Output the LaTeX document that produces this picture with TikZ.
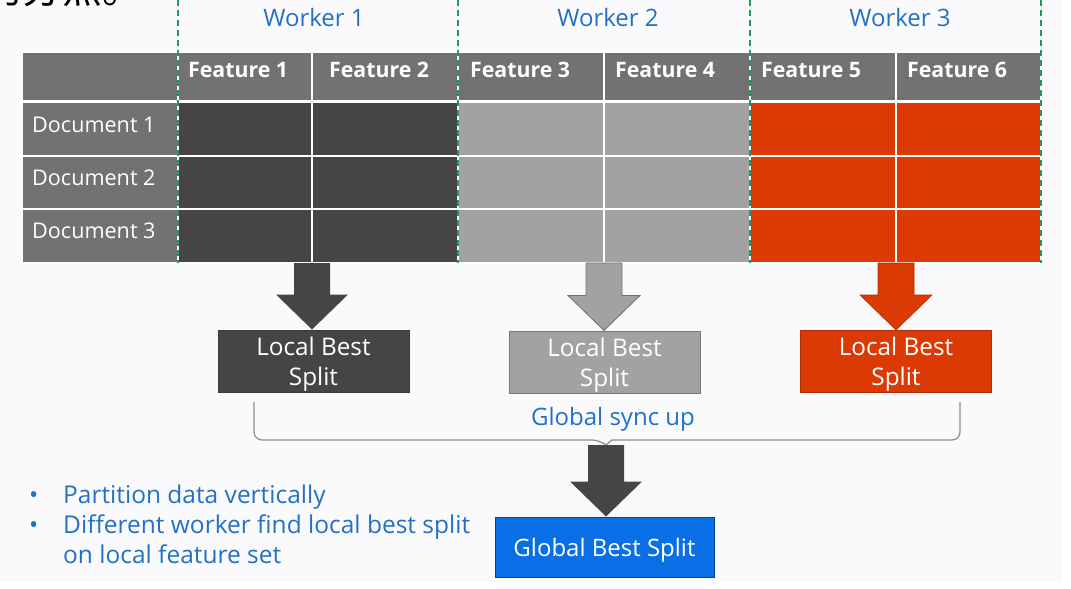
\documentclass[tikz,border=0pt]{standalone}
\usepackage{fontspec}
\setmainfont{Open Sans}
\newfontfamily\cjk{Noto Sans CJK SC}
\usetikzlibrary{calc}
\definecolor{bgc}{HTML}{FAFAFC}
\definecolor{hdr}{HTML}{737174}
\definecolor{darkc}{HTML}{464446}
\definecolor{lgray}{HTML}{A2A1A4}
\definecolor{orng}{HTML}{DC3A04}
\definecolor{wblue}{HTML}{2271C6}
\definecolor{gblue}{HTML}{0A6FE6}
\definecolor{dgreen}{HTML}{1E9A5C}
\definecolor{bracec}{HTML}{8E8E92}
\newcommand\blockarrow[3]{%
  \path[#3] let \p1=(#1), \p2=(#2) in
    (\x1-18pt,\y1) -- (\x1+18pt,\y1) -- (\x1+18pt,\y2+35pt) -- (\x1+36pt,\y2+35pt)
    -- (\x1,\y2) -- (\x1-36pt,\y2+35pt) -- (\x1-18pt,\y2+35pt) -- cycle;}
\newcommand\twolines[2]{\raisebox{-3pt}[\height][\depth]{\begin{tabular}{@{}c@{}}#1\\#2\end{tabular}}}
\begin{document}
\begin{tikzpicture}[x=1pt,y=-1pt,
  cellbox/.style={draw=white, line width=1.5pt, inner sep=0pt, outer sep=0pt, anchor=north west},
  wdash/.style={draw=dgreen, line width=1.8pt, dash pattern=on 6pt off 4pt},
  hdrtxt/.style={text=white, font=\bfseries\fontsize{21.3}{24}\selectfont, anchor=base west, inner sep=0pt},
  doctxt/.style={text=white, font=\fontsize{21.6}{24}\selectfont, anchor=base west, inner sep=0pt},
  worktxt/.style={text=wblue, font=\fontsize{24}{28}\selectfont, anchor=base, inner sep=0pt},
  lbox/.style={minimum width=191pt, minimum height=62pt, inner sep=0pt, line width=1pt,
     text=white, align=center, font=\fontsize{24.3}{30}\selectfont},
  bultxt/.style={text=wblue, font=\fontsize{24.5}{30}\selectfont, anchor=base west, inner sep=0pt},
  bracestyle/.style={draw=bracec, line width=1.2pt}
]
\useasboundingbox (0,0) rectangle (1071,589);
\fill[white] (0,0) rectangle (1071,589);
\fill[bgc] (0,0) rectangle (1062,582);

% heading text cut off at the top edge, as in the reference
\begin{scope}
\clip (0,0) rectangle (200,30);
\node[anchor=base west, inner sep=0pt, font=\cjk\fontsize{40}{40}\selectfont] (cn) at (-18,4) {的分点。};
\end{scope}

% table cells
\foreach \n/\xa/\xb/\c in {0/22/178/hdr, 1/178/312/darkc, 2/312/458/darkc, 3/458/604/lgray, 4/604/750/lgray, 5/750/896/orng, 6/896/1041/orng}{
  \pgfmathsetmacro\w{\xb-\xa}
  \node[cellbox, fill=hdr, minimum width=\w pt, minimum height=49pt] (c0\n) at (\xa,52) {};
  \foreach \r/\ya/\h in {1/102/54, 2/156/53, 3/209/54}{
    \node[cellbox, fill=\c, minimum width=\w pt, minimum height=\h pt] (c\r\n) at (\xa,\ya) {};
  }
}

% header texts
\node[hdrtxt] (f1) at (188,77) {Feature 1};
\node[hdrtxt] (f2) at (329,77) {Feature 2};
\node[hdrtxt] (f3) at (470,77) {Feature 3};
\node[hdrtxt] (f4) at (615,77) {Feature 4};
\node[hdrtxt] (f5) at (761,77) {Feature 5};
\node[hdrtxt] (f6) at (907,77) {Feature 6};
\node[doctxt] (d1) at (32,132) {Document 1};
\node[doctxt] (d2) at (32,185) {Document 2};
\node[doctxt] (d3) at (32,238) {Document 3};

% worker separators
\foreach \x in {178,458,750,1041}{
  \draw[wdash] (\x,0) -- (\x,263);
}
\node[worktxt] (w1) at (314,27) {Worker 1};
\node[worktxt] (w2) at (608,27) {Worker 2};
\node[worktxt] (w3) at (900,27) {Worker 3};

% local best split boxes
\node[lbox, fill=darkc, draw=darkc!85!black] (lb1) at (313.5,361) {\twolines{Local Best}{Split}};
\node[lbox, fill=lgray, draw=lgray!75!black] (lb2) at (604.5,362) {\twolines{Local Best}{Split}};
\node[lbox, fill=orng, draw=orng!80!black] (lb3) at (896,361.5) {\twolines{Local Best}{Split}};

% block arrows
\blockarrow{c32.south west}{lb1.north}{fill=darkc}
\blockarrow{c34.south west}{lb2.north}{fill=lgray, draw=lgray!70!black, line width=0.8pt}
\blockarrow{c36.south west}{lb3.north}{fill=orng, draw=orng!80!black, line width=0.6pt}

% global sync brace
\coordinate (bt) at (606,445);
\draw[bracestyle, rounded corners=8pt] (254,402) -- (254,440) -- (600,440) [sharp corners] -- (bt) -- (612,440) [rounded corners=8pt] -- (960,440) -- (960,402);
\node[worktxt] (sync) at (613,425) {Global sync up};

% global best split
\node[lbox, minimum width=219pt, minimum height=60pt, fill=gblue, draw=gblue!60!black,
      font=\fontsize{24}{28}\selectfont] (gb) at (604.5,547) {\raisebox{-3pt}[\height][\depth]{Global Best Split}};
\blockarrow{bt}{gb.north}{fill=darkc}

% bullets
\node[bultxt] (b1d) at (29,503) {•};
\node[bultxt] (b1) at (63,503) {Partition data vertically};
\node[bultxt] (b2d) at (29,533) {•};
\node[bultxt] (b2) at (63,533) {Different worker find local best split};
\node[bultxt] (b3) at (63,563) {on local feature set};
\end{tikzpicture}
\end{document}
